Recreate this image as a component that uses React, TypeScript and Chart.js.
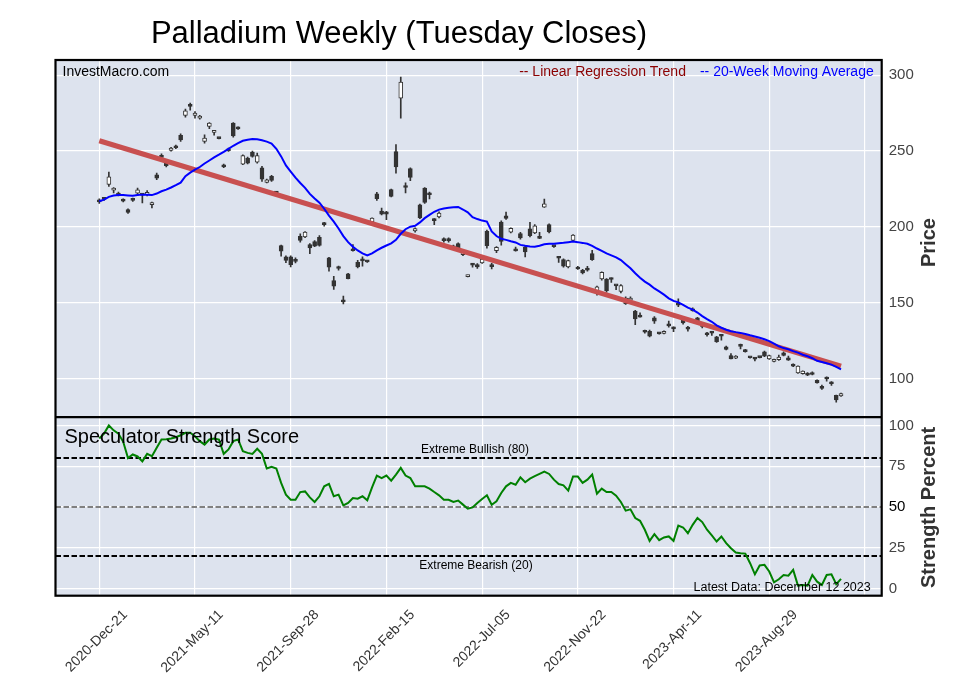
import React, { useEffect, useRef } from 'react';
import { Chart, registerables } from 'chart.js';

Chart.register(...registerables);

// ---------------- data ----------------
const TITLE = 'Palladium Weekly (Tuesday Closes)';
const X_TICKS = [0, 20, 40, 60, 80, 100, 120, 140, 160];
const X_LABELS = ['2020-Dec-21', '2021-May-11', '2021-Sep-28', '2022-Feb-15', '2022-Jul-05', '2022-Nov-22', '2023-Apr-11', '2023-Aug-29', ''];
const PRICE_TICKS = [100, 150, 200, 250, 300];
const STRENGTH_TICKS = [0, 25, 50, 75, 100];

const OPEN = [
  217.5, 218.6, 228, 224.3, 222.4, 218, 211.4, 218.6, 222.3, 221.6,
  221.3, 214.7, 234.4, 247.1, 242.1, 250.4, 253.5, 260.3, 273.5, 280.5,
  273.5, 271.7, 256.3, 266.2, 262.3, 258.6, 241, 251.2, 268.4, 265.6,
  241.4, 245.4, 249.3, 242.7, 239, 229.4, 233.3, 223, 187.7, 180.3,
  180.3, 177.8, 193.8, 193.4, 188.4, 190.3, 193.2, 202, 179.6, 164.7,
  173, 151, 169.1, 184.8, 176.7, 178, 177.5, 203.3, 221.9, 210.5,
  209.9, 224.6, 249.6, 284.9, 226.5, 238.4, 197.4, 214.5, 225.6, 221.6,
  204.6, 206.6, 191.4, 191.4, 187.5, 189, 181.8, 167.3, 175.2, 175.2,
  176.3, 197.1, 174.3, 184.4, 203.2, 207.4, 196.5, 184.6, 195.6, 186.8,
  198.7, 196, 193, 213.1, 201.5, 187.4, 179.8, 178.5, 173.6, 191.2,
  173.6, 171.4, 172, 182.4, 157.2, 165.7, 165.7, 166, 161.5, 157.6,
  149.5, 151.7, 144.5, 141, 131.2, 131.3, 140.1, 130, 129.8, 136,
  133.9, 149.5, 139, 133.2, 145.2, 140.1, 134.8, 130.2, 130.4, 127.6,
  129.1, 121, 115.3, 113.6, 121.7, 119, 114.2, 113.3, 114.1, 117.7,
  113.1, 111.4, 112.5, 117, 113.8, 109.4, 103.9, 103.3, 103.7, 104.1,
  98.9, 94.3, 100.2, 97.1, 89, 88.6,
];
const HIGH = [
  218.5, 219.5, 236.2, 226, 223, 218.5, 212, 219, 225.6, 222,
  224, 216.4, 235.5, 248.2, 243, 252.5, 254, 261.4, 277.6, 281.6,
  276, 273.5, 260.7, 268.8, 262.6, 258.8, 241.5, 252, 268.8, 266,
  247.6, 246, 250, 248.7, 240, 231.5, 234, 223.5, 188, 181,
  181, 179.6, 195.4, 197, 189, 191, 194.3, 203, 180, 167.5,
  174.3, 154.4, 169.5, 188.4, 178, 180.3, 177.8, 206, 222.8, 212.5,
  210.3, 225, 254.2, 298.7, 229, 239, 199.5, 215, 226, 223,
  205.5, 210, 192.8, 192.8, 188, 189.5, 184.5, 168.3, 176, 175.8,
  179.3, 198, 176, 187, 204, 209.8, 199.5, 186.8, 196.5, 187.5,
  203, 201.5, 196.4, 218.4, 202, 187.6, 180.6, 179, 178.2, 195,
  174, 172, 174.1, 184.6, 161, 170.5, 166, 166.5, 161.6, 162,
  154, 154, 145, 143.4, 132, 132, 141, 130.3, 131.6, 138,
  134.2, 152.6, 139.5, 134.6, 146.7, 140.5, 135.5, 130.5, 131.3, 128,
  129.3, 121.5, 116.5, 115.3, 122.8, 119.3, 114.3, 114, 114.3, 118.3,
  115.6, 113, 115.6, 117.8, 114.9, 109.8, 108.5, 105.2, 104, 104.5,
  99.2, 95.8, 101.3, 98.2, 89.3, 90.6,
];
const LOW = [
  215.5, 217.5, 226.7, 222.5, 220.5, 216.5, 209, 216.8, 221, 215.8,
  220.5, 212.5, 231.1, 245, 239.5, 250, 251.5, 256.3, 272.4, 277,
  271.7, 271, 255.2, 264.7, 260.5, 258, 239, 249.8, 259.2, 264.2,
  241, 241.5, 246, 242, 230, 229, 230, 222, 180.7, 176.5,
  173.7, 176.3, 189.9, 193, 182.4, 187, 187.3, 200.5, 170.8, 158.8,
  171.5, 149.3, 165.7, 184, 173, 174.1, 176.7, 203, 217.5, 208,
  204.8, 219.8, 235.5, 271.7, 222.4, 230.5, 196.5, 205.5, 215.5, 218.5,
  201.5, 206, 190, 190, 185.5, 185, 181, 167, 173.5, 172.7,
  176, 186, 172.3, 183, 188, 205, 196, 184, 192, 180.2,
  193.5, 195.5, 192.3, 212.8, 196, 186.5, 176.7, 173.5, 173, 190.8,
  172, 169, 170.8, 178, 155, 165, 157, 163.5, 158.7, 156.5,
  149, 151, 135.7, 140.5, 130, 127.5, 136.5, 129.3, 129.5, 134,
  131, 147.5, 136, 131.3, 144.5, 137, 133.5, 128, 128.5, 124,
  125.4, 119, 113, 113.3, 119.7, 117.5, 113.5, 111.8, 113.7, 114.5,
  112.8, 111, 112, 115, 112, 108, 103.5, 103, 102, 102.5,
  97, 92.9, 98.4, 95.6, 84.6, 88.3,
];
const CLOSE = [
  216.5, 218.2, 233, 225.6, 221, 217, 209.6, 217.5, 224.5, 221,
  222.8, 215.1, 232.2, 245.8, 240.3, 251.9, 252.2, 257.4, 276.5, 279.4,
  275, 273, 258.5, 268.4, 262.5, 258.2, 239.5, 250.2, 260, 264.6,
  247, 242.1, 246.5, 247, 231.5, 231.1, 230.7, 222.4, 184, 178,
  175.2, 177.3, 191.2, 196.7, 186.2, 187.3, 187.9, 201.5, 173.5, 161,
  172.6, 150.6, 166, 184.3, 173.7, 177.6, 177, 205.9, 218.6, 208.5,
  208.5, 220.2, 239.5, 295.4, 226, 232.7, 198.9, 206, 216.2, 221.2,
  204.2, 209.2, 191, 191, 186, 185.7, 184, 168, 174.8, 173.6,
  178.9, 187.7, 173.9, 186.6, 190.5, 205.7, 199.1, 184.2, 192.7, 183.5,
  194.3, 200.8, 192.5, 215.3, 196.7, 187, 179.4, 174.1, 177.8, 194.7,
  172.3, 169.7, 171.6, 178.5, 160.5, 170.1, 158, 165.4, 161.2, 161.4,
  153.2, 153.2, 139.4, 140.6, 130.6, 128, 137.9, 129.6, 131.3, 134.8,
  132.9, 148.5, 136.8, 132.7, 144.8, 137.9, 134.4, 129, 130, 124.5,
  128, 119.3, 113.1, 114.9, 121.3, 117.9, 113.8, 112.9, 113.9, 114.9,
  115.3, 112.7, 114.2, 115.3, 112.2, 108.3, 108.3, 105, 102.4, 102.8,
  97.3, 93.7, 99.8, 96.7, 86, 90.3,
];

const MA20 = [
  216.9, 218, 219.8, 220.7, 221, 221, 220.8, 220.6, 221, 221.3,
  221.2, 221, 222, 223.5, 224.6, 226, 227.5, 229.2, 233.5, 235.8,
  237.7, 239.5, 241.8, 243.8, 245.8, 247.6, 249.5, 251.5, 253.5, 255.2,
  256.8, 257.5, 257.9, 257.8, 257.1, 256.2, 255, 251.5, 246.5, 240.5,
  236.5, 232.5, 229, 225.8, 221.8, 218.8, 216, 212, 207.5, 203.5,
  199, 194, 190, 187, 184.5, 182.6, 181.2, 182.6, 184.6, 186.3,
  187.8, 189.2, 191.5, 195.5, 198.5, 200.2, 200.8, 203, 205.8, 208,
  210, 211.4, 212.2, 212.6, 213, 213.2, 211.5, 209.6, 206.5, 205.2,
  204.2, 203.5, 197, 194, 192.2, 191.5, 190.6, 189.8, 188.2, 187.6,
  187.2, 187, 187.6, 188.6, 188.9, 189, 189.3, 189.6, 190, 190.4,
  190, 189.5, 188.9, 187.5, 185.8, 184.3, 182.6, 181.3, 180, 178.2,
  175.5, 172.8, 169.5, 166.6, 164, 162, 159.5, 157.5, 155.4, 153,
  151.3, 150.3, 148.7, 146.8, 145.5, 143.6, 141.3, 139.3, 137.5, 135.2,
  133.6, 132.3, 131.3, 130.7, 130.2, 129.5, 128.6, 127.8, 127, 126,
  124.8, 123.2, 121.4, 120.2, 119.4, 118.2, 117.2, 115.8, 114.8, 113.5,
  111.8, 111, 110.2, 109.3, 107.8, 106.2,
];

// Linear regression trend: [week index, price] at its two ends
const TREND_WEEKS = [0, 155];
const TREND_PRICES = [256.8, 108.3];

const STRENGTH = [
  92, 95, 100, 97, 95, 90, 80, 82.2, 81, 78,
  82.6, 81.2, 86.3, 91.4, 91.6, 92, 92.8, 94, 95.5, 95.5,
  93.4, 90.4, 88.3, 91.4, 92, 91.4, 82.6, 85.3, 90.4, 91.4,
  84.2, 83.2, 82.6, 85.7, 82.6, 73.6, 74.6, 73.6, 64.8, 57.6,
  54.5, 54.5, 59.2, 59.6, 55.9, 53.1, 56.6, 62.7, 64.2, 56.6,
  57.6, 51, 52.5, 55.5, 55.1, 56.6, 54.1, 62.1, 69.3, 67.8,
  69.3, 66.2, 69.9, 74, 69.3, 67.8, 62.7, 62.7, 62.7, 61.3,
  59.2, 57.2, 54.5, 54.5, 53.1, 54, 51.5, 49, 49.8, 52.5,
  55, 57.2, 51.4, 53.5, 58.6, 62.7, 64.8, 63.7, 68.2, 65.2,
  67.4, 68.9, 70.3, 71.7, 70.3, 66.8, 64.1, 63.3, 60.1, 68.7,
  68.7, 64.8, 66.8, 69.9, 58.2, 61.3, 59.2, 59.2, 57, 53.1,
  47.8, 48.6, 43.3, 41.6, 36.1, 29.3, 33.4, 29.7, 31.4, 32,
  29.3, 38.7, 37.5, 34, 39.1, 43.3, 40.8, 36.1, 32.6, 28.9,
  32, 27.9, 24.8, 22.1, 21.7, 21.5, 15.6, 8.8, 14.2, 14.6,
  10.5, 3.9, 5.8, 8.4, 8, 11.5, 1.9, 2.3, 1.9, 8.4,
  4.3, 2.3, 8.4, 8.8, 2.7, 6,
];

const EXTREME_BULL = 80;
const NEUTRAL = 50;
const EXTREME_BEAR = 20;
const LATEST = 'Latest Data: December 12 2023';

// ---------------- layout / style ----------------
const W = 957;
const H = 694;
const X_MIN = -9.15;
const X_MAX = 163.5;
const P_MIN = 74.7;
const P_MAX = 310;
const S_MIN = -4.3;
const S_MAX = 105.1;
const FONT = '"Liberation Sans", Arial, sans-serif';
const PLOT_BG = '#dde3ee';
const DARK = '#333333';

const weeks = CLOSE.map((_, i) => i);
const isUp = weeks.map((i) => CLOSE[i] >= OPEN[i]);

const overlayPlugin = {
  id: 'overlay',
  beforeDraw(chart: any) {
    const { ctx, chartArea: a } = chart;
    ctx.save();
    ctx.fillStyle = '#ffffff';
    ctx.fillRect(0, 0, chart.width, chart.height);
    ctx.fillStyle = PLOT_BG;
    ctx.fillRect(a.left, a.top, a.right - a.left, a.bottom - a.top);
    ctx.restore();
  },
  afterDatasetsDraw(chart: any) {
    const { ctx, chartArea: a } = chart;
    const yS = chart.scales.yS;
    ctx.save();
    ctx.textBaseline = 'alphabetic';
    ctx.fillStyle = '#000';
    ctx.font = `14px ${FONT}`;
    ctx.textAlign = 'left';
    ctx.fillText('InvestMacro.com', a.left + 7, a.top + 16);
    ctx.textAlign = 'right';
    ctx.fillStyle = '#0000ff';
    ctx.fillText('-- 20-Week Moving Average', a.right - 8, a.top + 16);
    const w2 = ctx.measureText('-- 20-Week Moving Average').width;
    ctx.fillStyle = '#8b0000';
    ctx.fillText('-- Linear Regression Trend', a.right - 8 - w2 - 14, a.top + 16);

    ctx.fillStyle = '#000';
    ctx.textAlign = 'left';
    ctx.font = `20px ${FONT}`;
    ctx.fillText('Speculator Strength Score', a.left + 9, yS.top + 26);

    ctx.font = `12px ${FONT}`;
    ctx.textAlign = 'center';
    ctx.fillText(`Extreme Bullish (${EXTREME_BULL})`, 475, yS.getPixelForValue(EXTREME_BULL) - 5);
    ctx.fillText(`Extreme Bearish (${EXTREME_BEAR})`, 476, yS.getPixelForValue(EXTREME_BEAR) + 13);
    ctx.textAlign = 'right';
    ctx.font = `12.5px ${FONT}`;
    ctx.fillText(LATEST, a.right - 11, a.bottom - 5);
    ctx.restore();
  },
  afterDraw(chart: any) {
    const { ctx, chartArea: a } = chart;
    const yP = chart.scales.yP;
    const yS = chart.scales.yS;
    ctx.save();
    ctx.strokeStyle = '#000';
    ctx.lineWidth = 2.2;
    ctx.strokeRect(a.left, a.top, a.right - a.left, a.bottom - a.top);
    ctx.beginPath();
    ctx.moveTo(a.left, yP.bottom);
    ctx.lineTo(a.right, yP.bottom);
    ctx.stroke();

    ctx.fillStyle = '#000';
    ctx.font = `31px ${FONT}`;
    ctx.textAlign = 'center';
    ctx.textBaseline = 'alphabetic';
    ctx.fillText(TITLE, 399, 43);

    ctx.fillStyle = DARK;
    ctx.font = `bold 20px ${FONT}`;
    ctx.textBaseline = 'middle';
    ctx.translate(929, (yP.top + yP.bottom) / 2 + 4);
    ctx.rotate(-Math.PI / 2);
    ctx.fillText('Price', 0, 0);
    ctx.restore();

    ctx.save();
    ctx.fillStyle = DARK;
    ctx.font = `bold 20px ${FONT}`;
    ctx.textAlign = 'center';
    ctx.textBaseline = 'middle';
    ctx.translate(929, (yS.top + yS.bottom) / 2 + 1);
    ctx.rotate(-Math.PI / 2);
    ctx.fillText('Strength Percent', 0, 0);
    ctx.restore();
  },
};

function hline(value: number, color: string) {
  return {
    type: 'line' as const,
    data: [
      { x: X_MIN, y: value },
      { x: X_MAX, y: value },
    ],
    yAxisID: 'yS',
    borderColor: color,
    borderWidth: 2,
    borderDash: [5.5, 2.5],
    pointRadius: 0,
    order: 5,
  };
}

export default function App() {
  const ref = useRef<HTMLCanvasElement>(null);

  useEffect(() => {
    if (!ref.current) return;
    const chart = new Chart(ref.current, {
      type: 'line',
      data: {
        datasets: [
          {
            type: 'line',
            label: '20-Week Moving Average',
            data: weeks.map((i) => ({ x: i, y: MA20[i] })),
            yAxisID: 'yP',
            borderColor: '#0000ff',
            borderWidth: 2,
            pointRadius: 0,
            order: 0,
          },
          {
            type: 'line',
            label: 'Linear Regression Trend',
            data: TREND_WEEKS.map((w, k) => ({ x: w, y: TREND_PRICES[k] })),
            yAxisID: 'yP',
            borderColor: '#c85050',
            borderWidth: 5,
            pointRadius: 0,
            order: 1,
          },
          {
            type: 'bar',
            label: 'body',
            data: weeks.map((i) => ({ x: i, y: [Math.min(OPEN[i], CLOSE[i]), Math.max(OPEN[i], CLOSE[i])] })),
            yAxisID: 'yP',
            backgroundColor: weeks.map((i) => (isUp[i] ? '#ffffff' : DARK)),
            borderColor: DARK,
            borderWidth: 1,
            borderSkipped: false,
            barThickness: 4,
            minBarLength: 2,
            grouped: false,
            order: 2,
          } as any,
          {
            type: 'bar',
            label: 'wick',
            data: weeks.map((i) => ({ x: i, y: [LOW[i], HIGH[i]] })),
            yAxisID: 'yP',
            backgroundColor: DARK,
            borderWidth: 0,
            barThickness: 1,
            minBarLength: 1,
            grouped: false,
            order: 3,
          } as any,
          {
            type: 'line',
            label: 'Speculator Strength',
            data: weeks.map((i) => ({ x: i, y: STRENGTH[i] })),
            yAxisID: 'yS',
            borderColor: '#008000',
            borderWidth: 2,
            pointRadius: 0,
            order: 0,
          },
          hline(EXTREME_BULL, '#000000'),
          hline(NEUTRAL, '#808080'),
          hline(EXTREME_BEAR, '#000000'),
        ] as any,
      },
      plugins: [overlayPlugin],
      options: {
        animation: false,
        responsive: false,
        devicePixelRatio: 1,
        layout: { padding: { left: 55.5, top: 60, right: 0, bottom: 0 } },
        plugins: { legend: { display: false }, tooltip: { enabled: false }, title: { display: false } },
        scales: {
          x: {
            type: 'linear',
            min: X_MIN,
            max: X_MAX,
            offset: false,
            grid: { color: '#ffffff', lineWidth: 1.2, drawTicks: false, offset: false },
            border: { display: false },
            ticks: {
              autoSkip: false,
              maxRotation: 45,
              minRotation: 45,
              labelOffset: 26,
              padding: 11,
              color: DARK,
              font: { size: 14, family: FONT },
              callback: (_v: any, i: number) => X_LABELS[i] ?? '',
            },
            afterBuildTicks: (s: any) => {
              s.ticks = X_TICKS.map((v) => ({ value: v }));
            },
            afterFit: (s: any) => {
              s.height = H - 595.7;
            },
          },
          yP: {
            type: 'linear',
            position: 'right',
            stack: 'panels',
            stackWeight: 2,
            min: P_MIN,
            max: P_MAX,
            grid: { color: '#ffffff', lineWidth: 1.2, drawTicks: false },
            border: { display: false },
            ticks: { color: '#444', padding: 7, font: { size: 15, family: FONT } },
            afterBuildTicks: (s: any) => {
              s.ticks = PRICE_TICKS.map((v) => ({ value: v }));
            },
            afterFit: (s: any) => {
              s.width = W - 881.7;
            },
          },
          yS: {
            type: 'linear',
            position: 'right',
            stack: 'panels',
            stackWeight: 1,
            min: S_MIN,
            max: S_MAX,
            grid: { color: '#ffffff', lineWidth: 1.2, drawTicks: false },
            border: { display: false },
            ticks: {
              color: (c: any) => (c.tick && c.tick.value === NEUTRAL ? '#000' : '#444'),
              padding: 7,
              font: { size: 15, family: FONT },
            },
            afterBuildTicks: (s: any) => {
              s.ticks = STRENGTH_TICKS.map((v) => ({ value: v }));
            },
            afterFit: (s: any) => {
              s.width = W - 881.7;
            },
          },
        },
      } as any,
    });
    return () => chart.destroy();
  }, []);

  return (
    <div style={{ position: 'fixed', left: 0, top: 0, width: W, height: H, background: '#fff' }}>
      <canvas ref={ref} width={W} height={H} style={{ width: W, height: H, display: 'block' }} />
    </div>
  );
}
